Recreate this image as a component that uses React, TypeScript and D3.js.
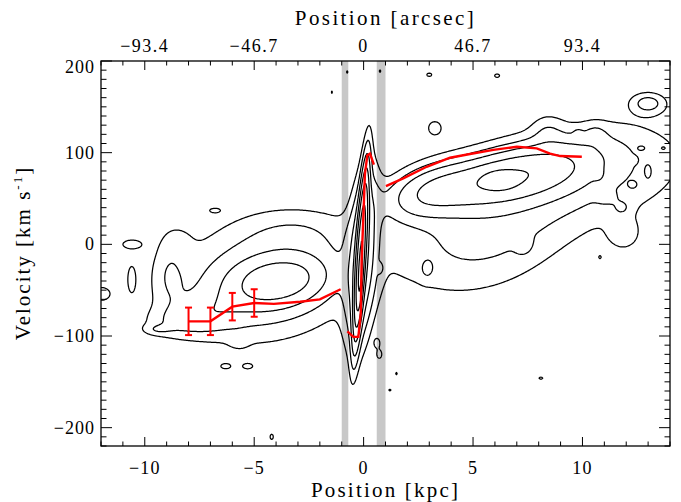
import React, { useMemo } from "react";
import * as d3 from "d3";

const W = 681;
const H = 502;
const PLOT = { left: 101, right: 670, top: 61, bottom: 446 };
const X_DOMAIN: [number, number] = [-12, 14];
const V_DOMAIN: [number, number] = [-220, 200];

// axis ticks
const xMajorTicks = [-10, -5, 0, 5, 10];
const xMajorLabels = ["\u221210", "\u22125", "0", "5", "10"];
const arcsecLabels = ["\u221293.4", "\u221246.7", "0", "46.7", "93.4"];
const xMinorTicks = d3.range(-12, 15, 1);
const vMajorTicks = [-200, -100, 0, 100, 200];
const vMajorLabels = ["\u2212200", "\u2212100", "0", "100", "200"];
const vMinorTicks = d3.range(-220, 201, 10);

// excluded (grey) strips in kpc
const stripStart = [-1.0, 0.6];
const stripEnd = [-0.7, 1.0];

// contour levels (arbitrary intensity units)
const contourLevels = [1, 2, 3.5, 6, 10, 17, 28];

// emission components: [x0 kpc, v0 km/s, sx kpc, sv km/s, amplitude, dv/dx, dx/dv]
const centralComps = [
  [-0.07, -14, 0.42, 64, 5, 0, 0.0028],
  [-0.12, -10, 0.13, 52, 22, 0, 0.0026],
  [-0.16, -40, 0.08, 22, 8, 0, 0.0026],
];
const leftComps = [
  [-4.6, -42, 1.1, 17, 3.6, 3, 0],
  [-3.2, -38, 1.1, 17, 3.6, 3, 0],
  [-4.6, -42, 2.7, 42, 3.3, 2, 0],
  [-8.3, -85, 1.2, 12, 1.4, 0, 0],
  [-7.0, -72, 1.0, 14, 1.0, 0, 0],
  [-3.0, 15, 1.8, 18, 1.0, 0, 0],
  [-8.9, -32, 0.55, 28, 1.3, 0, 0],
  [-8.5, 5, 0.5, 12, 0.6, 0, 0],
  [-5.7, -105, 0.3, 6, 0.6, 0, 0],
];
const rightComps = [
  [3.0, 58, 1.3, 18, 4.5, 5, 0],
  [5.9, 70, 1.8, 18, 6.5, 5, 0],
  [8.4, 80, 1.8, 20, 4.0, 5, 0],
  [6.2, 70, 0.5, 7, 3.4, 0, 0],
  [5.5, 18, 2.8, 48, 2.5, 5, 0],
  [11.0, 80, 3.0, 40, 1.8, 3, 0],
  [8.4, 125, 0.5, 12, 1.0, 0, 0],
  [10.6, 120, 0.35, 8, 0.9, 0, 0],
  [9.8, 121, 0.15, 4, 0.7, 0, 0],
];
// small isolated islands: [x0, v0, sx, sv, amplitude]
const islandComps = [
  [-10.6, 0, 0.4, 4.5, 1.5],
  [-12.0, -54, 0.4, 7, 1.5],
  [-10.6, -38, 0.15, 12, 1.5],
  [-9.45, -93, 0.45, 4, 1.0],
  [-6.8, 37, 0.2, 2, 1.3],
  [-6.3, -133, 0.2, 2.5, 1.3],
  [-5.3, -133, 0.2, 2.5, 1.3],
  [-4.2, -210, 0.1, 4, 1.3],
  [0.62, -108, 0.1, 4, 1.6],
  [0.72, -120, 0.1, 4, 1.6],
  [0.75, -26, 0.1, 4, 1.5],
  [1.5, -141, 0.06, 2, 1.2],
  [1.2, -159, 0.08, 1.5, 1.2],
  [3.0, 185, 0.15, 2.5, 1.3],
  [6.1, 184, 0.15, 2.5, 1.3],
  [0.75, 189, 0.06, 2, 1.2],
  [-0.75, 188, 0.06, 2, 1.2],
  [-1.45, 166, 0.05, 2, 1.2],
  [3.25, 127, 0.28, 7, 1.5],
  [13.0, 154, 0.55, 8, 2.3],
  [12.3, 92, 0.12, 2.5, 1.3],
  [13.0, 79, 0.1, 5, 1.3],
  [12.3, 65, 0.12, 2.5, 1.3],
  [12.7, 105, 0.1, 1.5, 1.2],
  [13.7, 105, 0.1, 1.5, 1.2],
  [8.1, -146, 0.12, 1.5, 1.3],
  [7.3, 0, 0.25, 7, 1.3],
  [10.8, -14, 0.05, 1.5, 1.2],
  [11.9, 11, 0.5, 12, 1.4],
  [10.75, 75, 0.18, 5, 0.6],
  [11.1, 51, 0.3, 5, 1.0],
  [11.8, 40, 0.3, 6, 1.0],
  [2.9, -27, 0.2, 7, 1.2],
];

// rotation curves (red)
const leftCurveX = [-8, -7, -6, -5, -4.1, -2.9, -2.0, -1.05];
const leftCurveV = [-84, -84, -68, -64, -65, -62.6, -60, -49];
const leftErrX = [-8, -7, -6, -5];
const leftErrV = [-84, -84, -68, -64];
const leftErr = [15, 15, 15, 15];
const centerCurveX = [-0.74, -0.47, -0.24, -0.13, -0.09, 0.0, 0.06, 0.17, 0.29, 0.47];
const centerCurveV = [-95, -101, -101, -75, -17, 37, 77, 97, 99, 87];
const rightCurveX = [1.02, 1.81, 2.88, 3.95, 4.86, 5.93, 7.0, 7.91, 8.52, 8.98, 9.97];
const rightCurveV = [63.6, 72, 84.6, 94.5, 98.5, 103, 106.5, 104.7, 99, 96.3, 95.6];

const FONT = "'Liberation Serif', 'DejaVu Serif', serif";

export default function App() {
  const x = d3.scaleLinear().domain(X_DOMAIN).range([PLOT.left, PLOT.right]);
  const y = d3.scaleLinear().domain(V_DOMAIN).range([PLOT.bottom, PLOT.top]);

  const contourPaths = useMemo(() => {
    const GX0 = -12.5, GDX = 0.05, GV0 = -226, GDV = 1;
    const nx = Math.round(27 / GDX) + 1;
    const ny = Math.round(432 / GDV) + 1;
    const vals = new Float64Array(nx * ny);
    const all: number[][] = [
      ...centralComps,
      ...leftComps,
      ...rightComps,
      ...islandComps.map((c) => [...c, 0, 0]),
    ];
    for (const c of all) {
      const [x0, v0, sx, sv, a, dvdx, dxdv] = c;
      const rx = 4.5 * sx + Math.abs(dxdv) * 4.5 * sv;
      const rv = 4.5 * sv + Math.abs(dvdx) * 4.5 * sx;
      const i0 = Math.max(0, Math.floor((x0 - rx - GX0) / GDX));
      const i1 = Math.min(nx - 1, Math.ceil((x0 + rx - GX0) / GDX));
      const j0 = Math.max(0, Math.floor((v0 - rv - GV0) / GDV));
      const j1 = Math.min(ny - 1, Math.ceil((v0 + rv - GV0) / GDV));
      for (let j = j0; j <= j1; j++) {
        const dv = GV0 + j * GDV - v0;
        for (let i = i0; i <= i1; i++) {
          const dx = GX0 + i * GDX - x0;
          const dvp = dv - dvdx * dx;
          const dxp = dx - dxdv * dv;
          const e = (dxp * dxp) / (sx * sx) + (dvp * dvp) / (sv * sv);
          if (e < 40) vals[j * nx + i] += a * Math.exp(-0.5 * e);
        }
      }
    }
    const gen = d3.contours().size([nx, ny]).thresholds(contourLevels);
    const polys = gen(Array.from(vals));
    const proj = d3.geoTransform({
      point(px: number, py: number) {
        (this as any).stream.point(
          x(GX0 + (px - 0.5) * GDX),
          y(GV0 + (py - 0.5) * GDV)
        );
      },
    });
    const path = d3.geoPath(proj);
    return polys.map((p) => path(p as any) || "");
  }, []);

  const line = d3
    .line<[number, number]>()
    .x((d) => x(d[0]))
    .y((d) => y(d[1]));

  const leftPts = leftCurveX.map((v, i) => [v, leftCurveV[i]] as [number, number]);
  const centerPts = centerCurveX.map((v, i) => [v, centerCurveV[i]] as [number, number]);
  const rightPts = rightCurveX.map((v, i) => [v, rightCurveV[i]] as [number, number]);

  const majorLenX = 9;
  const minorLenX = 4.5;
  const majorLenY = 11;
  const minorLenY = 5.5;

  return (
    <svg
      width={W}
      height={H}
      style={{ display: "block", position: "absolute", left: 0, top: 0, background: "#fff" }}
    >
      <defs>
        <clipPath id="plotclip">
          <rect x={PLOT.left} y={PLOT.top} width={PLOT.right - PLOT.left} height={PLOT.bottom - PLOT.top} />
        </clipPath>
      </defs>
      {stripStart.map((s, i) => (
        <rect
          key={"s" + i}
          x={x(s)}
          y={PLOT.top}
          width={x(stripEnd[i]) - x(s)}
          height={PLOT.bottom - PLOT.top}
          fill="#c8c8c8"
        />
      ))}
      <g clipPath="url(#plotclip)">
        {contourPaths.map((d, i) => (
          <path key={"c" + i} d={d} fill="none" stroke="#000" strokeWidth={1.25} strokeLinejoin="round" />
        ))}
        <path d={line(leftPts) || ""} fill="none" stroke="#ff0000" strokeWidth={2.4} />
        <path d={line(centerPts) || ""} fill="none" stroke="#ff0000" strokeWidth={2.4} />
        <path d={line(rightPts) || ""} fill="none" stroke="#ff0000" strokeWidth={2.4} />
        {leftErrX.map((ex, i) => (
          <g key={"e" + i} stroke="#ff0000" strokeWidth={2}>
            <line x1={x(ex)} x2={x(ex)} y1={y(leftErrV[i] - leftErr[i])} y2={y(leftErrV[i] + leftErr[i])} />
            <line x1={x(ex) - 3.5} x2={x(ex) + 3.5} y1={y(leftErrV[i] - leftErr[i])} y2={y(leftErrV[i] - leftErr[i])} />
            <line x1={x(ex) - 3.5} x2={x(ex) + 3.5} y1={y(leftErrV[i] + leftErr[i])} y2={y(leftErrV[i] + leftErr[i])} />
          </g>
        ))}
      </g>
      <rect
        x={PLOT.left}
        y={PLOT.top}
        width={PLOT.right - PLOT.left}
        height={PLOT.bottom - PLOT.top}
        fill="none"
        stroke="#000"
        strokeWidth={1.3}
      />
      {xMinorTicks.map((t) => {
        const major = xMajorTicks.includes(t);
        const len = major ? majorLenX : minorLenX;
        return (
          <g key={"xt" + t} stroke="#000" strokeWidth={1}>
            <line x1={x(t)} x2={x(t)} y1={PLOT.bottom} y2={PLOT.bottom - len} />
            <line x1={x(t)} x2={x(t)} y1={PLOT.top} y2={PLOT.top + len} />
          </g>
        );
      })}
      {vMinorTicks.map((t) => {
        const major = vMajorTicks.includes(t);
        const len = major ? majorLenY : minorLenY;
        return (
          <g key={"yt" + t} stroke="#000" strokeWidth={1}>
            <line x1={PLOT.left} x2={PLOT.left + len} y1={y(t)} y2={y(t)} />
            <line x1={PLOT.right} x2={PLOT.right - len} y1={y(t)} y2={y(t)} />
          </g>
        );
      })}
      <g fontFamily={FONT} fill="#000">
        {xMajorTicks.map((t, i) => (
          <text key={"xl" + t} x={x(t)} y={474} textAnchor="middle" fontSize={18} letterSpacing={1.2}>
            {xMajorLabels[i]}
          </text>
        ))}
        {xMajorTicks.map((t, i) => (
          <text key={"al" + t} x={x(t)} y={52} textAnchor="middle" fontSize={18} letterSpacing={1.5}>
            {arcsecLabels[i]}
          </text>
        ))}
        {vMajorTicks.map((t, i) => (
          <text
            key={"vl" + t}
            x={95}
            y={y(t) + (t === 200 ? 12 : 6)}
            textAnchor="end"
            fontSize={18}
            letterSpacing={1}
          >
            {vMajorLabels[i]}
          </text>
        ))}
        <text x={(PLOT.left + PLOT.right) / 2} y={497} textAnchor="middle" fontSize={21} letterSpacing={2.2}>
          Position [kpc]
        </text>
        <text x={(PLOT.left + PLOT.right) / 2} y={25} textAnchor="middle" fontSize={21} letterSpacing={2.4}>
          Position [arcsec]
        </text>
        <text
          transform={`translate(30, 253) rotate(-90)`}
          textAnchor="middle"
          fontSize={21}
          letterSpacing={2}
        >
          Velocity [km s
          <tspan dy={-8} fontSize={13}>-1</tspan>
          <tspan dy={8}>]</tspan>
        </text>
      </g>
    </svg>
  );
}
